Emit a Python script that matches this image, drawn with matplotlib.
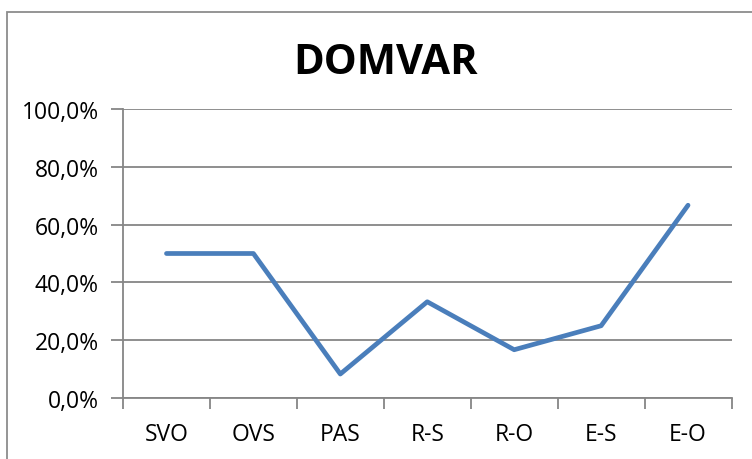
import matplotlib
matplotlib.use("Agg")
import matplotlib.pyplot as plt
from matplotlib.patches import Rectangle
from matplotlib.ticker import FixedLocator, FuncFormatter

# DOMVAR share per word order
categorie = ["SVO", "OVS", "PAS", "R-S", "R-O", "E-S", "E-O"]
valori = [50.0, 50.0, 8.3, 33.3, 16.7, 25.0, 66.7]
tick_y = [0, 20, 40, 60, 80, 100]

W, H = 752, 460
plt.rcParams['font.family'] = ['Open Sans', 'DejaVu Sans']
grigio = "#868686"

fig = plt.figure(figsize=(W / 100, H / 100), dpi=100)
ax = fig.add_axes([123 / W, (H - 399) / H, (731.5 - 123) / W, (399 - 110) / H])

x = list(range(len(categorie)))
ax.plot(x, valori, color="#4A7EBB", lw=3.4, solid_capstyle="round", solid_joinstyle="round", zorder=3)

ax.set_xlim(-0.5, len(categorie) - 0.5)
ax.set_ylim(0, 100)

ax.set_yticks(tick_y)
ax.yaxis.set_major_formatter(FuncFormatter(lambda v, p: f"{v:.1f}%".replace(".", ",")))
ax.grid(axis="y", color=grigio, lw=1.3)
ax.set_axisbelow(True)

# ticks on category borders, labels in the middle
ax.xaxis.set_major_locator(FixedLocator([i - 0.5 for i in range(len(categorie) + 1)]))
ax.xaxis.set_major_formatter(FuncFormatter(lambda v, p: ""))
ax.xaxis.set_minor_locator(FixedLocator(x))
ax.set_xticks(x, categorie, minor=True)
ax.tick_params(axis="x", which="major", length=8, width=1.3, color=grigio, direction="out")
ax.tick_params(axis="x", which="minor", length=0, pad=17, labelsize=16.5)
ax.tick_params(axis="y", length=9, width=1.3, color=grigio, pad=8.5, labelsize=16.5)

for s in ["top", "right"]:
    ax.spines[s].set_visible(False)
for s in ["left", "bottom"]:
    ax.spines[s].set_color(grigio)
    ax.spines[s].set_linewidth(1.3)

fig.text(386 / W, 1 - 64 / H, "DOMVAR", ha="center", va="center", fontsize=30, fontweight="bold")

# chart border (right/bottom cut off in the original)
fig.patches.append(Rectangle((7 / W, -0.1), 1.2, 1 - 13 / H + 0.1, transform=fig.transFigure,
                             fill=False, edgecolor="#8c8c8c", lw=1.3))

fig.savefig("out.png", dpi=100)
